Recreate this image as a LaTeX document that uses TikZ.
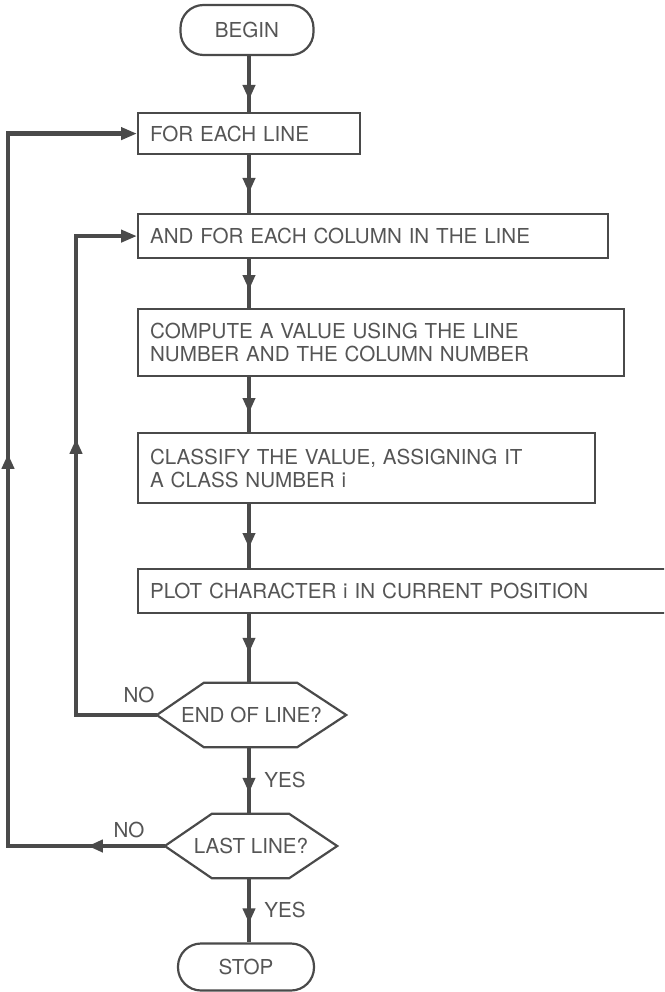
\documentclass[tikz,border=0pt]{standalone}
\usepackage{fontspec}
\setmainfont{TeX Gyre Heros}
\usetikzlibrary{arrows.meta,decorations.markings}
\definecolor{linec}{HTML}{4A4A4A}
\definecolor{textc}{HTML}{555555}
\tikzset{
  every node/.style={font=\fontsize{20.6}{23}\selectfont, text=textc},
  term/.style={draw=linec, line width=2.2pt, rounded corners=23pt, inner sep=0pt},
  stepbox/.style={draw=linec, line width=2.2pt, anchor=north west, inner xsep=12pt, inner ysep=0pt, align=left},
  hexnode/.style={inner sep=0pt},
  hexline/.style={draw=linec, line width=2.2pt, line join=miter},
  conn/.style={draw=linec, line width=4.5pt},
  tipstyle/.style={-{Triangle[length=16pt,width=12pt]}},
  midarrow/.style={postaction={decorate,decoration={markings,mark=at position #1 with {\arrow{Triangle[length=15pt,width=12pt]}}}}},
  lbl/.style={inner sep=0pt}
}
\begin{document}
\begin{tikzpicture}[x=1pt,y=-1pt]
\useasboundingbox (0,0) rectangle (664,992);
\clip (0,0) rectangle (664,992);
\coordinate (spine) at (249,0);
\coordinate (oloop) at (8,0);
\coordinate (iloop) at (76,0);

\node[term, minimum width=133pt, minimum height=50pt] (begin) at (247,30) {BEGIN};
\node[stepbox, minimum width=222pt, minimum height=41pt, text width=198pt] (for) at (137,112) {FOR EACH LINE};
\node[stepbox, minimum width=470pt, minimum height=44pt, text width=446pt] (and) at (137,213) {AND FOR EACH COLUMN IN THE LINE};
\node[stepbox, minimum width=486pt, minimum height=67pt, text width=462pt] (comp) at (137,308) {COMPUTE A VALUE USING THE LINE\\NUMBER AND THE COLUMN NUMBER};
\node[stepbox, minimum width=457pt, minimum height=70pt, text width=433pt] (class) at (137,432) {CLASSIFY THE VALUE, ASSIGNING IT\\A CLASS NUMBER i};
\node[stepbox, minimum width=560pt, minimum height=44pt, text width=536pt] (plot) at (137,568) {PLOT CHARACTER i IN CURRENT POSITION};

\node[hexnode, minimum width=189pt, minimum height=64pt] (eol) at (251.5,715) {END OF LINE?};
\draw[hexline] (eol.west) -- ([xshift=47pt]eol.north west) -- ([xshift=-49pt]eol.north east) -- (eol.east) -- ([xshift=-49pt]eol.south east) -- ([xshift=47pt]eol.south west) -- cycle;
\node[hexnode, minimum width=172pt, minimum height=64pt] (last) at (251,846) {LAST LINE?};
\draw[hexline] (last.west) -- ([xshift=47pt]last.north west) -- ([xshift=-48pt]last.north east) -- (last.east) -- ([xshift=-48pt]last.south east) -- ([xshift=47pt]last.south west) -- cycle;

\node[term, minimum width=136pt, minimum height=47pt] (stop) at (246,967) {STOP};

\node[lbl] (no1) at (139,695) {NO};
\node[lbl] (no2) at (129,830) {NO};
\node[lbl] (yes1) at (285,780) {YES};
\node[lbl] (yes2) at (285,910) {YES};

% main spine
\draw[conn, midarrow=-12pt] (begin.south -| spine) -- (for.north -| spine);
\draw[conn, midarrow=-20pt] (for.south -| spine) -- (and.north -| spine);
\draw[conn, midarrow=-18pt] (and.south -| spine) -- (comp.north -| spine);
\draw[conn, midarrow=-19pt] (comp.south -| spine) -- (class.north -| spine);
\draw[conn, midarrow=-20pt] (class.south -| spine) -- (plot.north -| spine);
\draw[conn, midarrow=-30pt] (plot.south -| spine) -- (eol.north -| spine);
\draw[conn, midarrow=-21pt] (eol.south -| spine) -- (last.north -| spine);
\draw[conn, midarrow=-19pt] (last.south -| spine) -- (stop.north -| spine);

% loops
\draw[conn, tipstyle, midarrow=357pt] (eol.west) -- (eol.west -| iloop) -- (iloop |- and.west) -- (and.west);
\draw[conn, tipstyle, midarrow=77pt, midarrow=549pt] (last.west) -- (last.west -| oloop) -- (oloop |- for.west) -- (for.west);
\end{tikzpicture}
\end{document}
